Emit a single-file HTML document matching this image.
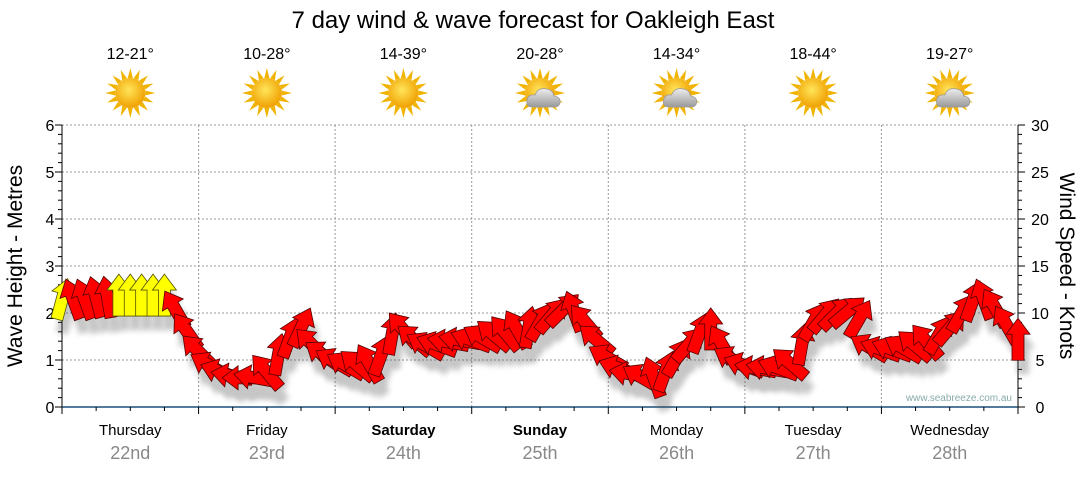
<!DOCTYPE html>
<html><head><meta charset="utf-8"><style>
body{margin:0;background:#fff;width:1080px;height:475px;overflow:hidden;font-family:"Liberation Sans","DejaVu Sans",sans-serif}
svg text{font-family:"Liberation Sans","DejaVu Sans",sans-serif}
</style></head><body>
<svg id="chart" width="1080" height="475">
<defs>
<filter id="sh" x="-50%" y="-50%" width="200%" height="200%"><feGaussianBlur stdDeviation="3"/></filter>
<radialGradient id="sun" cx="45%" cy="40%" r="60%"><stop offset="0" stop-color="#ffe55a"/><stop offset="1" stop-color="#f0a000"/></radialGradient>
<linearGradient id="cl" x1="0" y1="0" x2="0" y2="1"><stop offset="0" stop-color="#eee"/><stop offset="1" stop-color="#999"/></linearGradient>
</defs>
<text x="533" y="28" font-size="24" text-anchor="middle" fill="#000">7 day wind &amp; wave forecast for Oakleigh East</text>
<g id="grid"></g><g id="axes"></g><g id="icons"></g><g id="shadows" opacity="0.3"></g><g id="arrows"></g>
<text x="1012" y="401" font-size="10" fill="#8aa" text-anchor="end">www.seabreeze.com.au</text>
<text transform="translate(22,266) rotate(-90)" font-size="21" text-anchor="middle">Wave Height - Metres</text>
<text transform="translate(1060,266) rotate(90)" font-size="21" text-anchor="middle">Wind Speed - Knots</text>
</svg>
<script>
const days=["Thursday","Friday","Saturday","Sunday","Monday","Tuesday","Wednesday"];
const dates=["22nd","23rd","24th","25th","26th","27th","28th"];
const temps=["12-21°","10-28°","14-39°","20-28°","14-34°","18-44°","19-27°"];
const cloudy=[0,0,0,1,1,0,1];
const boldDays=[0,0,1,1,0,0,0];
const waveTicks=[0,1,2,3,4,5,6];
const windTicks=[0,5,10,15,20,25,30];
const speeds=[11.4,11.4,11.4,11.6,11.6,11.8,11.8,11.8,11.8,11.8,10.3,8,5.9,4.4,3.7,3.3,3.1,3.1,3.7,5.5,7.3,8.4,6.6,5.5,4.8,4.4,4.4,4.6,5.4,7.7,8.2,7.1,6.5,6.6,6.9,7.1,7.1,7.3,7.6,7.8,8.2,8.4,9,9.7,10.3,10.1,9,7.1,5.2,4.1,3.5,3.1,3.1,3.7,5.2,6.6,7.8,8.2,6.6,5,4.4,4.1,4.1,4.1,4.6,6.6,9,9.7,9.9,10.1,9.3,6.3,6.1,6.1,6.2,6.5,6.9,7.6,8.4,9.9,11.2,11.4,10.5,8.7,7.1];
const dirs=[15,-20,-20,-15,-10,0,0,0,0,0,-30,-35,-45,-60,-70,-80,-90,-80,-40,10,20,25,-45,-55,-60,-60,-50,-30,20,10,-40,-50,-60,-70,-80,-80,-70,-60,-50,-40,-30,10,30,40,45,-20,-40,-50,-60,-70,-80,-60,-20,20,30,40,20,0,-30,-60,-70,-80,-80,-70,-50,10,30,40,45,50,30,-60,-70,-70,-60,-50,-40,30,40,30,20,-20,-30,-30,0];
const yellow=[1,0,0,0,0,1,1,1,1,1];
const NS="http://www.w3.org/2000/svg";
const X0=62,X1=1018,Y0=407,Y1=125,HOURS=168;
const xT=h=>X0+(X1-X0)*h/HOURS;
const yW=m=>Y0-(Y0-Y1)*m/6;
const yK=k=>Y0-(Y0-Y1)*k/30;
function el(t,a,p){const e=document.createElementNS(NS,t);for(const k in a)e.setAttribute(k,a[k]);p.appendChild(e);return e;}
const grid=document.getElementById('grid'),axes=document.getElementById('axes'),icons=document.getElementById('icons');
waveTicks.forEach(m=>{
 if(m>0){const g=el('line',{x1:X0,x2:X1,y1:yW(m),y2:yW(m),stroke:'#999','stroke-dasharray':'2,2'},grid);
 
 }
 const t=el('text',{x:50,y:yW(m)+6,'font-size':16,'text-anchor':'middle'},axes);t.textContent=m;
 
 
});
for(let i=0;i<=30;i++){const y=yW(i*0.2);el('line',{x1:X0-(i%5?4:7),x2:X0,y1:y,y2:y,stroke:'#000'},axes);el('line',{x1:X1,x2:X1+(i%5?4:7),y1:y,y2:y,stroke:'#000'},axes);}
windTicks.forEach(k=>{const t=el('text',{x:1040,y:yK(k)+6,'font-size':16,'text-anchor':'middle'},axes);t.textContent=k;
 
 });
el('line',{x1:X0,x2:X0,y1:Y1,y2:Y0,stroke:'#000'},axes);
el('line',{x1:X1,x2:X1,y1:Y1,y2:Y0,stroke:'#000'},axes);
el('line',{x1:X0,x2:X1,y1:Y0,y2:Y0,stroke:'#1a4f7a','stroke-width':1.5},axes);
for(let h=0;h<=HOURS;h+=6){el('line',{x1:xT(h),x2:xT(h),y1:Y0,y2:Y0+(h%24?4:7),stroke:'#000'},axes);}
days.forEach((d,i)=>{
 const xb=xT(i*24),xc=xT(i*24+12);
 if(i>0){const g=el('line',{x1:xb,x2:xb,y1:Y1,y2:Y0,stroke:'#999','stroke-dasharray':'2,2'},grid);
 
 }
 const t=el('text',{x:xc,y:435,'font-size':15,'text-anchor':'middle','font-weight':boldDays[i]?'bold':'normal'},axes);t.textContent=d;
 
 
 const t2=el('text',{x:xc,y:459,'font-size':18,'text-anchor':'middle',fill:'#888'},axes);t2.textContent=dates[i];
 
 
 const t3=el('text',{x:xc,y:59,'font-size':16,'text-anchor':'middle'},icons);t3.textContent=temps[i];
 
 
 const g=el('g',{transform:`translate(${xc},93)`},icons);
 
 
 for(let r=0;r<16;r++){el('polygon',{points:'-2.5,-15 2.5,-15 0,-25',fill:'#f0b400',transform:`rotate(${r*22.5})`},g);}
 el('circle',{r:15,fill:'url(#sun)'},g);
 if(cloudy[i]){el('path',{d:'M-8,14 Q-14,14 -13,7 Q-12,1 -5,2 Q-2,-6 7,-4 Q13,-3 14,3 Q21,4 20,10 Q19,14 14,14 Z',fill:'url(#cl)',stroke:'#999','stroke-width':0.8},g);}
});
const sh=document.getElementById('shadows'),ar=document.getElementById('arrows');
const AP='0,-22 12,-6 6,-6 6,20 -6,20 -6,-6 -12,-6';
speeds.forEach((s,i)=>{
 const x=xT(i*2),y=yK(s);
 el('polygon',{points:AP,fill:'#444',filter:'url(#sh)',transform:`translate(${x+5},${y+14}) rotate(${dirs[i]})`},sh);
 const p=el('polygon',{points:AP,fill:yellow[i]?'#ffff00':'#ff0000',stroke:yellow[i]?'#555500':'#550000','stroke-width':0.8,transform:`translate(${x},${y}) rotate(${dirs[i]})`},ar);
 
 
});
</script>
</body></html>
